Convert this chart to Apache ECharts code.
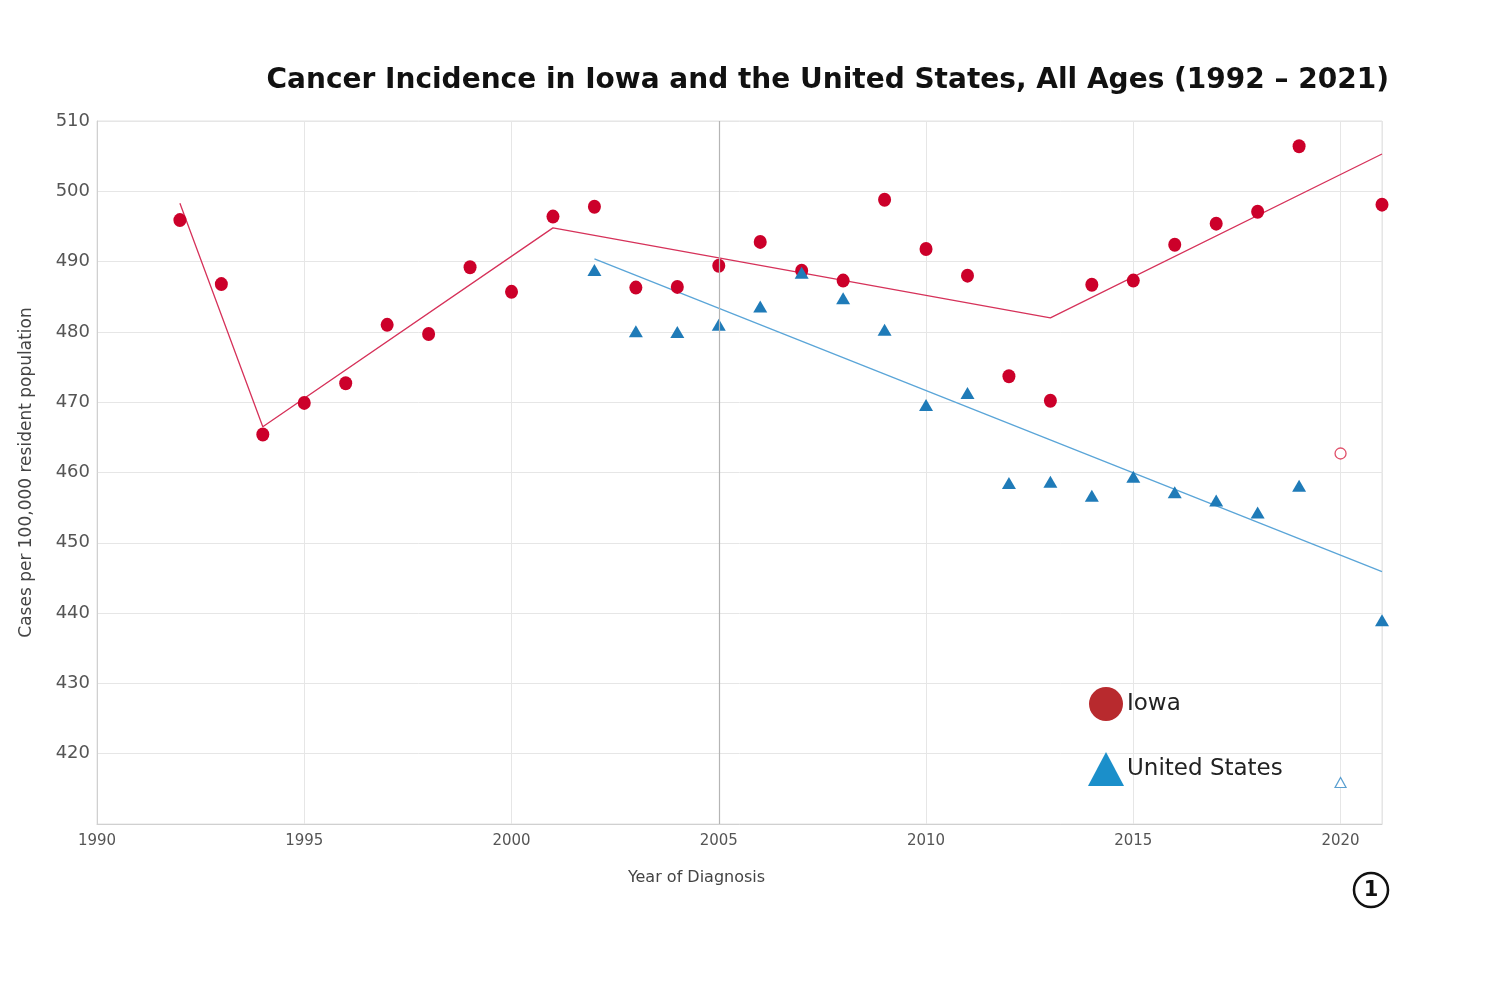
<!DOCTYPE html>
<html><head><meta charset="utf-8">
<script src="https://cdn.jsdelivr.net/npm/echarts@6/dist/echarts.min.js"></script>
<style>html,body{margin:0;padding:0;background:#fff}#c{width:1500px;height:1000px}</style>
</head><body><div id="c"></div>
<script>
const years = [1992,1993,1994,1995,1996,1997,1998,1999,2000,2001,2002,2003,2004,2005,2006,2007,2008,2009,2010,2011,2012,2013,2014,2015,2016,2017,2018,2019,2020,2021];
const iowaRates = [495.9,486.8,465.4,469.9,472.7,481.0,479.7,489.2,485.7,496.4,497.8,486.3,486.4,489.4,492.8,488.7,487.3,498.8,491.8,488.0,473.7,470.2,486.7,487.3,492.4,495.4,497.1,506.4,462.7,498.1];
const usYears = [2002,2003,2004,2005,2006,2007,2008,2009,2010,2011,2012,2013,2014,2015,2016,2017,2018,2019,2020,2021];
const usRates = [488.8,480.1,480.0,481.0,483.6,488.4,484.8,480.3,469.6,471.3,458.5,458.7,456.7,459.4,457.2,456.0,454.3,458.1,415.9,439.0];
const provisionalYear = 2020;
const iowaTrendYears = [1992,1994,2001,2013,2021];
const iowaTrend = [498.3,466.5,494.8,482.0,505.3];
const usTrendYears = [2002,2021];
const usTrend = [490.4,445.9];
const xTicks = [1990,1995,2000,2005,2010,2015,2020];
const yTicks = [420,430,440,450,460,470,480,490,500,510];

const RED = '#cc002a', BLUE = '#1f7bb8';
const font = '"DejaVu Sans", sans-serif';

const iowaMain = years.map((y,i)=>[y,iowaRates[i]]).filter(p=>p[0]!==provisionalYear);
const iowaProv = years.map((y,i)=>[y,iowaRates[i]]).filter(p=>p[0]===provisionalYear);
const usMain = usYears.map((y,i)=>[y,usRates[i]]).filter(p=>p[0]!==provisionalYear);
const usProv = usYears.map((y,i)=>[y,usRates[i]]).filter(p=>p[0]===provisionalYear);

const chart = echarts.init(document.getElementById('c'), null, {renderer:'canvas'});
chart.setOption({
  animation:false,
  backgroundColor:'#fff',
  title:{text:'Cancer Incidence in Iowa and the United States, All Ages (1992 – 2021)',
    right:106, top:62,
    textStyle:{fontFamily:font, fontWeight:'bold', fontSize:28, color:'#111'}},
  grid:{left:97, right:118, top:121, bottom:176, show:true, borderColor:'#e3e3e3', borderWidth:1},
  legend:{orient:'vertical', left:1083, top:682, itemWidth:36, itemHeight:34, itemGap:31,
    textStyle:{fontFamily:font, fontSize:23, color:'#222', padding:[0,0,0,-2]},
    data:[{name:'Iowa', icon:'circle', itemStyle:{color:'#b82a2e', opacity:1}},
          {name:'United States', icon:'triangle', itemStyle:{color:'#1b8fca', opacity:1}}]},
  xAxis:{type:'value', min:1990, max:2021, interval:5,
    axisLine:{show:true, lineStyle:{color:'#d0d0d0'}}, axisTick:{show:false},
    axisLabel:{fontFamily:font, fontSize:15, color:'#555', margin:10, showMaxLabel:false,
      formatter:v=> xTicks.includes(v)? String(v):''},
    splitLine:{show:true, lineStyle:{color:'#e6e6e6'}},
    name:'Year of Diagnosis', nameLocation:'middle', nameGap:46,
    nameTextStyle:{fontFamily:font, fontSize:16, color:'#444', padding:[0,86,0,0]}},
  yAxis:{type:'value', min:410, max:510, interval:10,
    axisLine:{show:true, lineStyle:{color:'#d0d0d0'}}, axisTick:{show:false},
    axisLabel:{fontFamily:font, fontSize:18, color:'#555', margin:7, showMinLabel:false,
      formatter:v=> yTicks.includes(v)? String(v):''},
    splitLine:{show:true, lineStyle:{color:'#e6e6e6'}},
    name:'Cases per 100,000 resident population', nameLocation:'middle', nameGap:62,
    nameTextStyle:{fontFamily:font, fontSize:17, color:'#444'}},
  series:[
    {type:'line', name:'IowaTrend', data:iowaTrendYears.map((y,i)=>[y,iowaTrend[i]]),
     showSymbol:false, lineStyle:{color:'#d6325a', width:1.3}, z:2,
     markLine:{silent:true, symbol:'none', label:{show:false},
       lineStyle:{color:'#b5b5b5', width:1.2, type:'solid'}, data:[{xAxis:2005}]}},
    {type:'line', name:'USTrend', data:usTrendYears.map((y,i)=>[y,usTrend[i]]),
     showSymbol:false, lineStyle:{color:'#5aa5d8', width:1.3}, z:2},
    {type:'scatter', name:'Iowa', data:iowaMain, symbol:'circle', symbolSize:[13,14],
     itemStyle:{color:RED, opacity:1}, z:3},
    {type:'scatter', name:'United States', data:usMain, symbol:'triangle', symbolSize:[14,12],
     itemStyle:{color:BLUE, opacity:1}, z:3},
    {type:'scatter', name:'IowaProv', data:iowaProv, symbol:'circle', symbolSize:11,
     itemStyle:{color:'#fff', borderColor:'#e0506a', borderWidth:1.3, opacity:1}, z:3},
    {type:'scatter', name:'USProv', data:usProv, symbol:'triangle', symbolSize:[11,10],
     itemStyle:{color:'#fff', borderColor:'#5a9fd0', borderWidth:1.2, opacity:1}, z:3}
  ],
  graphic:[
    {type:'circle', shape:{cx:1371, cy:890, r:17}, style:{fill:'#fff', stroke:'#111', lineWidth:2.5}},
    {type:'text', x:1371, y:891, style:{text:'1', fontFamily:font, fontWeight:'bold', fontSize:21, fill:'#111', align:'center', verticalAlign:'middle'}}
  ]
});
</script></body></html>
